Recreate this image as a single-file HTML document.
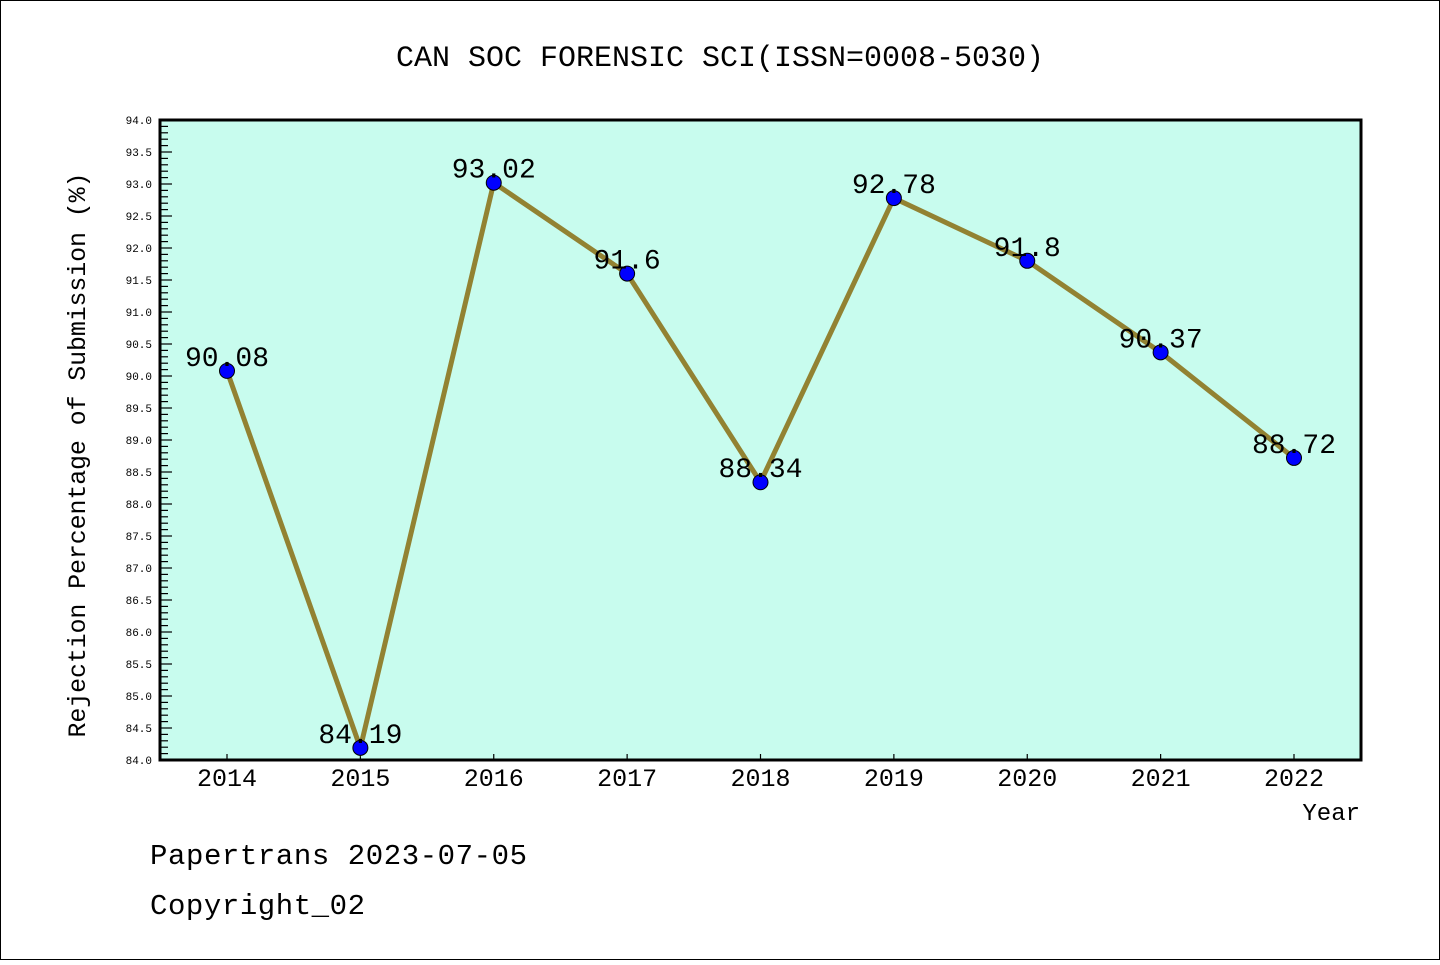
<!DOCTYPE html>
<html><head><meta charset="utf-8"><style>
body{margin:0;background:#fff;}
svg text{font-family:"Liberation Mono","DejaVu Sans Mono",monospace;}
</style></head><body>
<svg width="1440" height="960" xmlns="http://www.w3.org/2000/svg">
<rect x="0.5" y="0.5" width="1439" height="959" fill="#fff" stroke="#000" stroke-width="1"/>
<text x="720" y="66" font-size="30" text-anchor="middle">CAN SOC FORENSIC SCI(ISSN=0008-5030)</text>
<rect x="160" y="120" width="1201" height="640" fill="#c8fcee"/>
<g id="yaxis"></g>
<g id="xaxis"></g>
<g id="series"></g>
<rect x="160" y="120" width="1201" height="640" fill="none" stroke="#000" stroke-width="3"/>
<text transform="translate(85,455) rotate(-90)" font-size="25" text-anchor="middle" textLength="565" lengthAdjust="spacing">Rejection Percentage of Submission (%)</text>
<text x="1360" y="820" font-size="24" text-anchor="end">Year</text>
<text x="150" y="864" font-size="29" textLength="377" lengthAdjust="spacing">Papertrans 2023-07-05</text>
<text x="150" y="914" font-size="29" textLength="215" lengthAdjust="spacing">Copyright_02</text>
</svg>
<script>
const years = ["2014","2015","2016","2017","2018","2019","2020","2021","2022"];
const values = [90.08,84.19,93.02,91.6,88.34,92.78,91.8,90.37,88.72];
const valueLabels = ["90.08","84.19","93.02","91.6","88.34","92.78","91.8","90.37","88.72"];
const yMin = 84, yMax = 94;
const NS="http://www.w3.org/2000/svg";
function y(v){return 760-(v-yMin)/(yMax-yMin)*640;}
function x(i){return 227+i*(1294-227)/(years.length-1);}
function mk(tag,attrs,parent,txt){const e=document.createElementNS(NS,tag);for(const k in attrs)e.setAttribute(k,attrs[k]);if(txt!==undefined)e.textContent=txt;parent.appendChild(e);return e;}
const ya=document.getElementById('yaxis');
for(let k=0;k<=100;k++){
  const v=yMin+k*0.1, yy=y(v), major=k%5===0;
  const t=mk('line',{x1:160,x2:major?172:168,y1:yy,y2:yy,stroke:'#000','stroke-width':1.2},ya);
  
  
  if(major){
    const l=mk('text',{x:152,y:yy+4,'font-size':11,'text-anchor':'end','font-family':'Liberation Sans, sans-serif'},ya,v.toFixed(1));
    
    
  }
}
const xa=document.getElementById('xaxis');
years.forEach((yr,i)=>{
  const t=mk('line',{x1:x(i),x2:x(i),y1:760,y2:754,stroke:'#000','stroke-width':1.2},xa);
  
  
  const l=mk('text',{x:x(i),y:786,'font-size':25,'text-anchor':'middle','font-family':'Liberation Sans, sans-serif'},xa,yr);
  
  
});
const s=document.getElementById('series');
const line=mk('polyline',{points:values.map((v,i)=>x(i)+','+y(v)).join(' '),fill:'none',stroke:'#928232','stroke-width':5},s);


values.forEach((v,i)=>{
  const c=mk('circle',{cx:x(i),cy:y(v),r:7.5,fill:'#0000ff',stroke:'#000','stroke-width':1},s);
  
  
  const l=mk('text',{x:x(i),y:y(v)-5,'font-size':28,'text-anchor':'middle','font-family':'Liberation Sans, sans-serif'},s,valueLabels[i]);
  
  
});
</script>
</body></html>
